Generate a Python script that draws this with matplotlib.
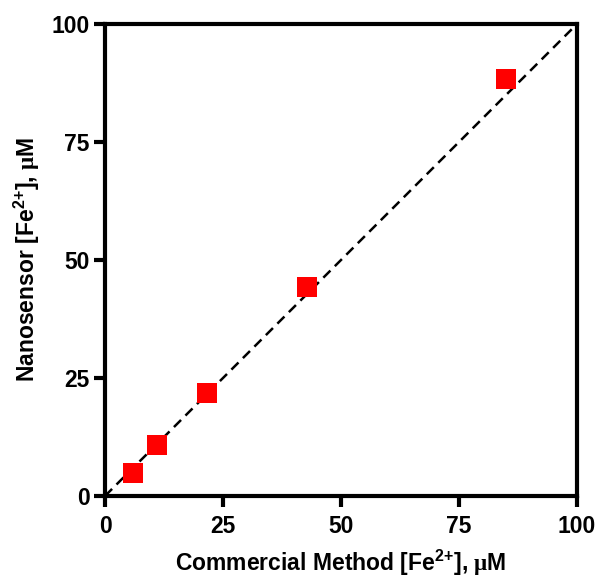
import numpy as np
import matplotlib.pyplot as plt

plt.rcParams['font.family'] = 'Liberation Sans'
plt.rcParams['font.weight'] = 'bold'
plt.rcParams['axes.labelweight'] = 'bold'
plt.rcParams['mathtext.fontset'] = 'custom'
plt.rcParams['mathtext.rm'] = 'Liberation Sans:bold'
plt.rcParams['mathtext.bf'] = 'Liberation Sans:bold'
plt.rcParams['mathtext.sf'] = 'Liberation Serif'
plt.rcParams['mathtext.default'] = 'rm'

commercial = [5.9, 11.0, 21.6, 42.8, 85.0]
nanosensor = [4.9, 10.8, 21.8, 44.3, 88.4]
identity = [0, 100]
ticks = [0, 25, 50, 75, 100]

fig = plt.figure(figsize=(5.98, 5.78), dpi=100)
ax = fig.add_axes([0.1756, 0.1419, 0.7893, 0.8166])

ax.plot(identity, identity, '--', color='black', linewidth=1.8, dashes=(4, 2.5),
        zorder=2)
ax.plot(commercial, nanosensor, 's', color='#FF0000', markersize=14.5,
        markeredgewidth=0, zorder=3, clip_on=False)

ax.set_xlim(0, 100)
ax.set_ylim(0, 100)
ax.set_xticks(ticks)
ax.set_yticks(ticks)
for s in ax.spines.values():
    s.set_linewidth(3)
ax.tick_params(width=3, length=8, labelsize=16.5)
ax.tick_params(axis='x', pad=6)
ax.tick_params(axis='y', pad=3)

ax.set_xlabel(r'Commercial Method [Fe$^{2{+}}$], $\mathsf{μ}$M', fontsize=16.5,
              labelpad=7)
ax.set_ylabel(r'Nanosensor [Fe$^{2{+}}$], $\mathsf{μ}$M', fontsize=16.5,
              labelpad=7)

fig.savefig('out.png', dpi=100)
